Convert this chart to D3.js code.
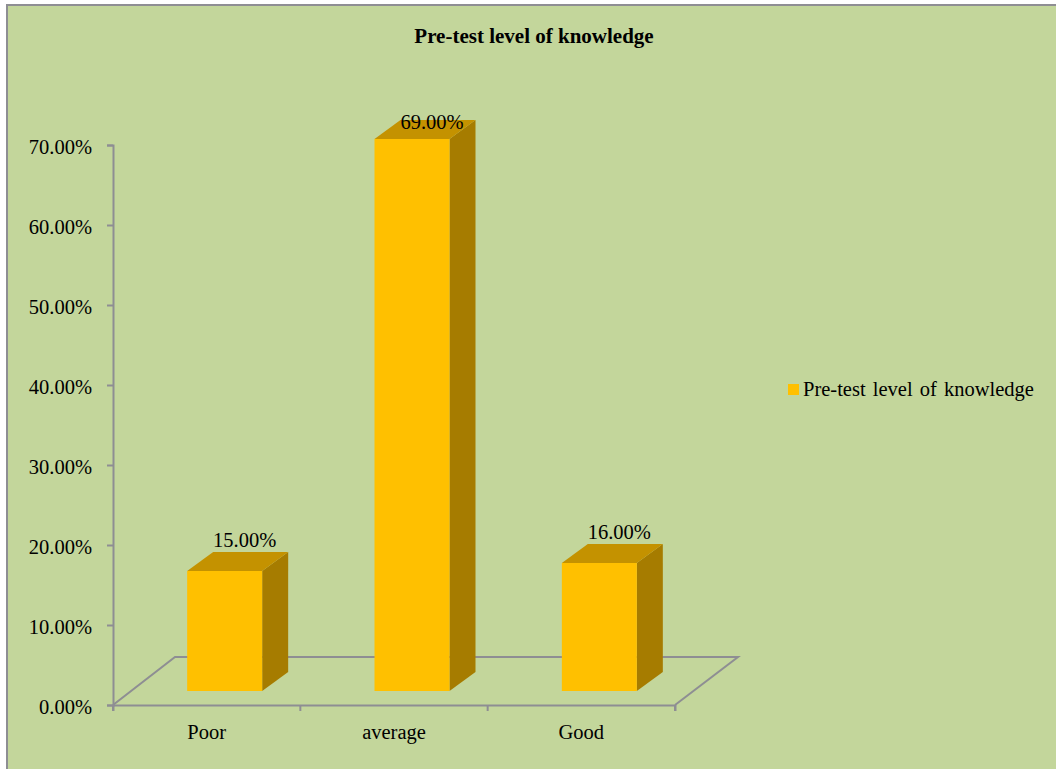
<!DOCTYPE html>
<html>
<head>
<meta charset="utf-8">
<script src="https://cdn.jsdelivr.net/npm/d3@7"></script>
<style>
  html, body { margin: 0; padding: 0; background: #fff; }
  svg { display: block; }
  text { font-family: "Liberation Serif", serif; fill: #000; }
</style>
</head>
<body>
<div id="chart"></div>
<script>
var categories = ["Poor", "average", "Good"];
var values = [15, 69, 16];
var valueLabels = ["15.00%", "69.00%", "16.00%"];
var yTicks = [0, 10, 20, 30, 40, 50, 60, 70];
var seriesName = "Pre-test level of knowledge";

drawChart();

function drawChart() {
  var svg = d3.select("#chart")
              .append("svg")
              .attr("width", 1056)
              .attr("height", 769);

  var axisColor = "#8e8e93";

  // chart border
  svg.append("rect")
      .attr("x", 7).attr("y", 5)
      .attr("width", 1060).attr("height", 775)
      .attr("fill", "#c3d69b")
      .attr("stroke", axisColor)
      .attr("stroke-width", 2);

  var x = d3.scaleBand().domain(categories).range([113, 675]),
      y = d3.scaleLinear().domain([0, 70]).range([705, 145]);

  // floor offset of the 3d box, and the offset of bars inside it
  var floorX = 62, floorY = 48,
      barShiftX = 18, barShiftY = 14,
      depthX = 26, depthY = 19,
      barWidth = 75;

  // floor outline
  svg.append("path")
      .attr("d", d3.line()([
        [x.range()[0], y(0)],
        [x.range()[0] + floorX, y(0) - floorY],
        [x.range()[1] + floorX + 1, y(0) - floorY],
        [x.range()[1], y(0)]
      ]))
      .attr("fill", "none")
      .attr("stroke", axisColor)
      .attr("stroke-width", 2);

  // y axis
  var yAxis = svg.append("g")
      .attr("transform", "translate(113,0)")
      .call(d3.axisLeft(y).tickValues(yTicks).tickSize(6).tickPadding(15)
              .tickFormat(function(d) { return d3.format(".2f")(d) + "%"; }));

  // x axis
  var xAxis = svg.append("g")
      .attr("transform", "translate(0,705)")
      .call(d3.axisBottom(x).tickSize(6).tickPadding(13).tickSizeOuter(6));

  xAxis.selectAll(".tick line").remove();
  xAxis.selectAll(".edge")
      .data(categories.concat(["end"]))
      .enter().append("line")
      .attr("x1", function(d) { return d === "end" ? x.range()[1] : x(d); })
      .attr("x2", function(d) { return d === "end" ? x.range()[1] : x(d); })
      .attr("y1", 0).attr("y2", 6);

  [yAxis, xAxis].forEach(function(a) {
    a.selectAll(".domain").attr("stroke", axisColor).attr("stroke-width", 2);
    a.selectAll("line").attr("stroke", axisColor).attr("stroke-width", 2);
    a.selectAll("text")
        .attr("font-family", "Liberation Serif")
        .attr("font-size", 20.5)
        .attr("fill", "#000");
  });
  yAxis.selectAll("text").attr("dy", "0.42em");

  // 3d bars
  var bars = svg.selectAll(".bar")
      .data(categories)
      .enter().append("g")
      .attr("class", "bar");

  function left(d) { return x(d) + x.bandwidth() / 2 + barShiftX - barWidth / 2; }
  function top(d, i) { return y(values[i]) - barShiftY; }
  var bottom = y(0) - barShiftY;

  // right side
  bars.append("path")
      .attr("fill", "#a67c00")
      .attr("d", function(d, i) {
        var r = left(d) + barWidth, t = top(d, i);
        return d3.line()([[r, t], [r + depthX, t - depthY], [r + depthX, bottom - depthY], [r, bottom]]) + "Z";
      });

  // top side
  bars.append("path")
      .attr("fill", "#c49200")
      .attr("d", function(d, i) {
        var l = left(d), t = top(d, i);
        return d3.line()([[l, t], [l + depthX, t - depthY], [l + barWidth + depthX, t - depthY], [l + barWidth, t]]) + "Z";
      });

  // front
  bars.append("rect")
      .attr("fill", "#ffc000")
      .attr("x", left)
      .attr("y", top)
      .attr("width", barWidth)
      .attr("height", function(d, i) { return bottom - top(d, i); });

  // value labels, the tall one gets pushed down onto the bar top
  bars.append("text")
      .attr("x", function(d) { return left(d) + barWidth / 2 + 20; })
      .attr("y", function(d, i) { return Math.max(top(d, i) - 24, y(70) - 16); })
      .attr("text-anchor", "middle")
      .attr("font-size", 20.5)
      .text(function(d, i) { return valueLabels[i]; });

  // title
  svg.append("text")
      .attr("x", 534)
      .attr("y", 43)
      .attr("text-anchor", "middle")
      .attr("font-size", 21)
      .attr("font-weight", "bold")
      .text(seriesName);

  // legend
  svg.append("rect")
      .attr("x", 788).attr("y", 384)
      .attr("width", 11).attr("height", 11)
      .attr("fill", "#ffc000");
  svg.append("text")
      .attr("x", 803)
      .attr("y", 396)
      .attr("font-size", 20.5)
      .attr("word-spacing", 2)
      .text(seriesName);
}
</script>
</body>
</html>
